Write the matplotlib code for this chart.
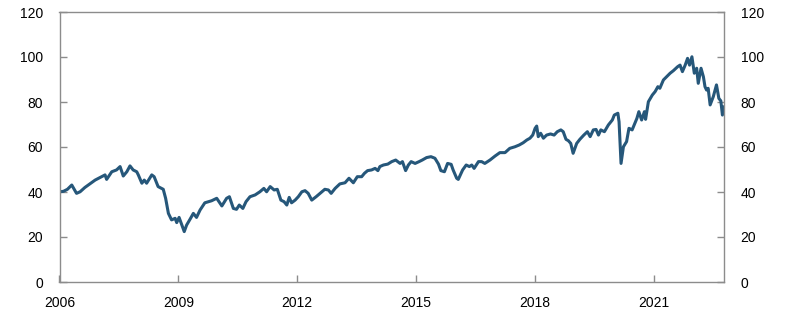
import matplotlib
matplotlib.use("Agg")
import matplotlib.pyplot as plt

# Index values (decimal year, level)
years = [
    2006.00, 2006.10, 2006.20, 2006.31, 2006.43, 2006.52, 2006.64, 2006.90,
    2007.02, 2007.15, 2007.19, 2007.32, 2007.44, 2007.53, 2007.61, 2007.70,
    2007.78, 2007.86, 2007.95, 2007.99, 2008.08, 2008.14, 2008.20, 2008.33,
    2008.39, 2008.49, 2008.62, 2008.68, 2008.75, 2008.83, 2008.92, 2008.96,
    2009.02, 2009.09, 2009.15, 2009.21, 2009.30, 2009.38, 2009.46, 2009.55,
    2009.67, 2009.76, 2009.84, 2009.97, 2010.10, 2010.22, 2010.29, 2010.39,
    2010.47, 2010.54, 2010.63, 2010.71, 2010.81, 2010.94, 2011.06, 2011.16,
    2011.23, 2011.32, 2011.42, 2011.50, 2011.59, 2011.67, 2011.74, 2011.80,
    2011.86, 2011.95, 2012.03, 2012.12, 2012.20, 2012.28, 2012.37, 2012.48,
    2012.58, 2012.70, 2012.79, 2012.86, 2012.96, 2013.08, 2013.21, 2013.31,
    2013.42, 2013.52, 2013.63, 2013.70, 2013.78, 2013.88, 2013.97, 2014.04,
    2014.09, 2014.18, 2014.29, 2014.39, 2014.49, 2014.60, 2014.66, 2014.74,
    2014.81, 2014.88, 2014.98, 2015.08, 2015.16, 2015.27, 2015.38, 2015.48,
    2015.57, 2015.63, 2015.72, 2015.80, 2015.89, 2015.94, 2016.03, 2016.07,
    2016.18, 2016.27, 2016.35, 2016.41, 2016.47, 2016.58, 2016.66, 2016.74,
    2016.87, 2017.00, 2017.12, 2017.25, 2017.37, 2017.50, 2017.61, 2017.71,
    2017.80, 2017.88, 2017.95, 2018.01, 2018.05, 2018.09, 2018.15, 2018.22,
    2018.30, 2018.40, 2018.49, 2018.57, 2018.66, 2018.72, 2018.79, 2018.85,
    2018.91, 2018.97, 2019.06, 2019.14, 2019.24, 2019.33, 2019.40, 2019.48,
    2019.55, 2019.61, 2019.67, 2019.76, 2019.86, 2019.96, 2020.01, 2020.10,
    2020.13, 2020.18, 2020.24, 2020.32, 2020.38, 2020.46, 2020.58, 2020.63,
    2020.70, 2020.77, 2020.80, 2020.87, 2020.97, 2021.04, 2021.11, 2021.16,
    2021.25, 2021.33, 2021.42, 2021.50, 2021.61, 2021.67, 2021.73, 2021.80,
    2021.86, 2021.91, 2021.97, 2022.03, 2022.09, 2022.13, 2022.20, 2022.26,
    2022.30, 2022.34, 2022.38, 2022.43, 2022.51, 2022.59, 2022.65, 2022.70,
    2022.74, 2022.78,
]
values = [
    40.1, 40.3, 41.2, 43.1, 39.4, 40.1, 42.0, 45.3,
    46.4, 47.6, 45.6, 49.0, 49.8, 51.3, 47.1, 49.0,
    51.6, 49.8, 49.0, 47.6, 43.9, 45.3, 43.9, 47.6,
    46.8, 42.4, 41.2, 37.2, 30.5, 27.6, 28.3, 26.4,
    28.7, 25.3, 22.4, 25.3, 28.0, 30.5, 28.7, 32.0,
    35.2, 35.7, 36.1, 37.2, 33.8, 37.2, 37.9, 32.7,
    32.3, 34.2, 32.7, 35.7, 37.9, 38.7, 40.1, 41.6,
    40.1, 42.4, 40.9, 41.2, 36.4, 35.7, 34.2, 37.6,
    35.2, 36.4, 37.9, 40.1, 40.6, 39.4, 36.4, 37.9,
    39.4, 41.2, 40.9, 39.4, 41.6, 43.6, 44.1, 46.1,
    44.1, 46.8, 46.8, 48.3, 49.5, 49.8, 50.5, 49.5,
    51.3, 52.0, 52.4, 53.5, 54.2, 52.7, 53.5, 49.5,
    52.0, 53.5, 52.7, 53.5, 54.2, 55.3, 55.7, 55.0,
    52.4, 49.5, 49.0, 52.7, 52.3, 49.8, 46.1, 45.6,
    49.8, 52.0, 51.3, 52.0, 50.5, 53.5, 53.5, 52.7,
    54.2, 56.0, 57.5, 57.5, 59.4, 60.1, 60.9, 61.9,
    63.1, 63.9, 65.3, 68.3, 69.3, 64.6, 66.1, 63.9,
    65.3, 65.8, 65.3, 66.8, 67.6, 66.8, 63.4, 62.8,
    61.6, 57.2, 61.6, 63.4, 65.3, 66.8, 64.6, 67.6,
    67.8, 65.3, 67.6, 66.8, 69.8, 72.0, 74.2, 75.0,
    71.2, 52.7, 60.1, 62.4, 68.3, 67.6, 72.7, 75.7,
    72.0, 75.7, 72.3, 80.1, 83.1, 84.6, 86.8, 86.1,
    89.8, 91.2, 92.8, 93.9, 95.7, 96.4, 93.5, 96.4,
    99.4, 96.4, 100.1, 92.8, 95.0, 88.3, 95.0, 91.2,
    86.8, 85.3, 86.1, 78.7, 82.4, 87.6, 81.6, 80.5,
    74.2, 77.8,
]

xtick_years = [2006, 2009, 2012, 2015, 2018, 2021]
ytick_values = [0, 20, 40, 60, 80, 100, 120]

plt.rcParams['font.family'] = ['Liberation Sans', 'DejaVu Sans']
plt.rcParams['font.size'] = 10

line_color = '#26577a'
spine_color = '#8c8c8c'

fig = plt.figure(figsize=(7.96, 3.13), dpi=100)
ax = fig.add_axes([59.5 / 796, 1 - 282 / 313, (724 - 59.5) / 796, (282 - 12) / 313])

ax.plot(years, values, color=line_color, linewidth=2.2, solid_joinstyle='round')

ax.set_xlim(2006, 2022.78)
ax.set_ylim(0, 120)
ax.set_xticks(xtick_years)
ax.set_xticklabels([str(y) for y in xtick_years])
ax.set_yticks(ytick_values)

for side in ['left', 'right', 'top', 'bottom']:
    ax.spines[side].set_color(spine_color)
    ax.spines[side].set_linewidth(1.0)

ax.tick_params(axis='both', direction='in', length=5, width=1.0, color=spine_color,
               labelcolor='black')
ax.tick_params(axis='y', left=True, right=True, labelleft=True, labelright=True, pad=12)
ax.tick_params(axis='x', top=False, pad=10)

fig.savefig('out.png', dpi=100, facecolor='white')
